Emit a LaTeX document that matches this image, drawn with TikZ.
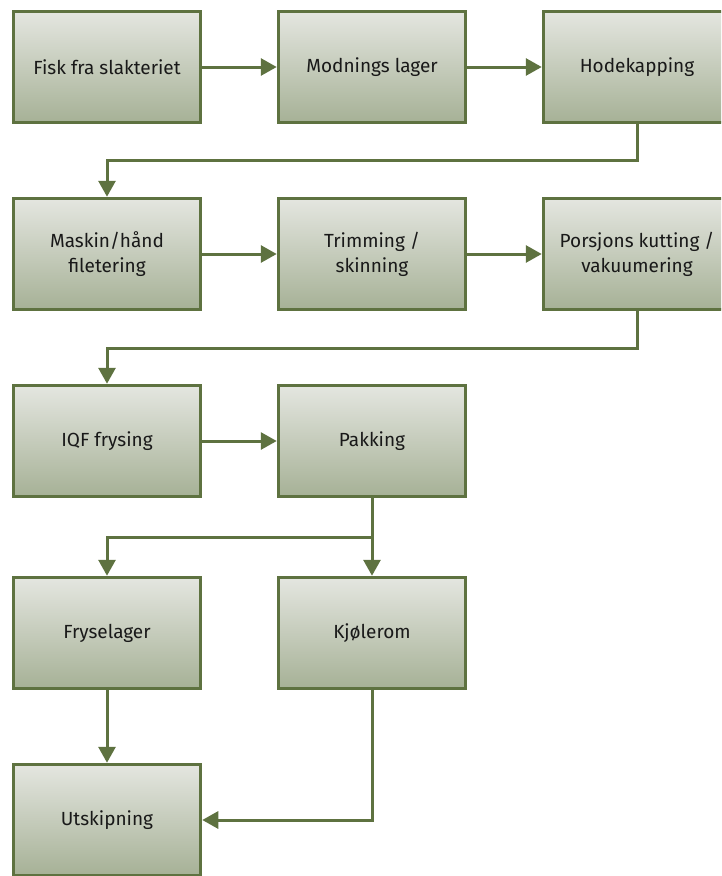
\documentclass[tikz,border=0pt]{standalone}
\usepackage{fontspec}
\setmainfont{Fira Sans}
\usetikzlibrary{arrows.meta}
\definecolor{olive}{RGB}{94,114,64}
\definecolor{boxtop}{RGB}{228,230,224}
\definecolor{boxbot}{RGB}{166,177,150}
\begin{document}
\begin{tikzpicture}[x=1pt,y=-1pt,
  stepbox/.style={draw=olive, line width=3.5pt, top color=boxtop, bottom color=boxbot,
    minimum width=187pt, minimum height=111pt, inner sep=0pt, align=center,
    font=\fontsize{19}{25}\selectfont, text=black!90},
  flow/.style={draw=olive, line width=3pt, -{Triangle[length=16pt,width=17pt]}}]
\useasboundingbox (0,0) rectangle (721,876);
\begin{scope}
\clip (0,0) rectangle (721,876);
% row 1
\node[stepbox] (fisk) at (107,67) {Fisk fra slakteriet};
\node[stepbox] (modn) at (372,67) {Modnings lager};
\node[stepbox] (hode) at (637,67) {Hodekapping};
% row 2
\node[stepbox] (mask) at (107,254) {Maskin/hånd\\filetering};
\node[stepbox] (trim) at (372,254) {Trimming /\\skinning};
\node[stepbox] (pors) at (637,254) {Porsjons kutting /\\vakuumering};
% row 3
\node[stepbox] (iqf) at (107,441) {IQF frysing};
\node[stepbox] (pakk) at (372,441) {Pakking};
% row 4
\node[stepbox] (frys) at (107,633) {Fryselager};
\node[stepbox] (kjol) at (372,633) {Kjølerom};
% row 5
\node[stepbox] (utsk) at (107,820) {Utskipning};
% connectors
\coordinate (b1) at (0,160);
\coordinate (b2) at (0,348);
\coordinate (b3) at (0,537);
\draw[flow] (fisk) -- (modn);
\draw[flow] (modn) -- (hode);
\draw[flow] (hode.south) |- (b1 -| mask.north) -- (mask.north);
\draw[flow] (mask) -- (trim);
\draw[flow] (trim) -- (pors);
\draw[flow] (pors.south) |- (b2 -| iqf.north) -- (iqf.north);
\draw[flow] (iqf) -- (pakk);
\draw[flow] (pakk.south) -- (kjol.north);
\draw[flow] (b3 -| pakk.south) -| (frys.north);
\draw[flow] (frys) -- (utsk);
\draw[flow] (kjol.south) |- (utsk.east);
\end{scope}
\end{tikzpicture}
\end{document}
